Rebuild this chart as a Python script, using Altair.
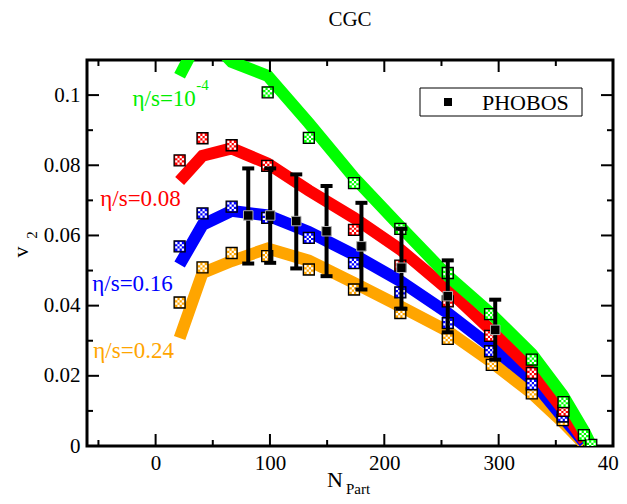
import altair as alt
import pandas as pd

W, H = 526, 386
FONT = "Liberation Serif"

# ---- model curves (hydro + CGC) ----
green_n = [21, 41, 66.5, 98, 134, 173.5, 214, 255.5, 293, 329, 356, 375, 381]
green_v = [0.1055, 0.118, 0.1095, 0.1055, 0.0920, 0.0765, 0.0625, 0.0485, 0.0378, 0.0262, 0.0145, 0.0040, 0.0]
model_n = [21, 41, 66.5, 98, 134, 173.5, 214, 255.5, 293, 329, 356, 375]
red_v = [0.0755, 0.0827, 0.0848, 0.0805, 0.0728, 0.0650, 0.0560, 0.0446, 0.0331, 0.0217, 0.0105, 0.0015]
blue_v = [0.0517, 0.0630, 0.0670, 0.0657, 0.0610, 0.0545, 0.0470, 0.0379, 0.0284, 0.0189, 0.0082, 0.0010]
orange_v = [0.0308, 0.0493, 0.0527, 0.0563, 0.0528, 0.0465, 0.0398, 0.0327, 0.0241, 0.0150, 0.0068, 0.0005]

# ---- checkered squares ----
gsq_n = [98, 134, 173.5, 214, 255.5, 292.5, 329, 356.7, 374.5, 381]
gsq_v = [0.1008, 0.0878, 0.0749, 0.0619, 0.0493, 0.0376, 0.0246, 0.0125, 0.0031, 0.0003]
rsq_n = [21, 41, 66.5, 97.6, 173.5, 214, 255.5, 292.5, 329, 356.7]
rsq_v = [0.0814, 0.0877, 0.0857, 0.0798, 0.0616, 0.0514, 0.0412, 0.0314, 0.0208, 0.0100]
bsq_n = [21, 41, 66.5, 97.6, 134, 173.5, 214, 255.5, 292.5, 329, 356]
bsq_v = [0.0569, 0.0663, 0.0682, 0.0650, 0.0593, 0.0521, 0.0438, 0.0350, 0.0270, 0.0176, 0.0084]
osq_n = [21, 41, 66.5, 97.6, 134, 173.5, 214, 255.5, 294, 329, 356]
osq_v = [0.0409, 0.0509, 0.0550, 0.0541, 0.0503, 0.0446, 0.0379, 0.0305, 0.0231, 0.0150, 0.0074]

# ---- PHOBOS ----
ph_n = [81, 100.2, 123, 149.5, 180, 215, 255.5, 297]
ph_v = [0.0657, 0.0657, 0.0641, 0.0612, 0.0569, 0.0508, 0.0427, 0.0331]
ph_hi = [0.0791, 0.0791, 0.0774, 0.0741, 0.0693, 0.0619, 0.0529, 0.0417]
ph_lo = [0.0520, 0.0522, 0.0506, 0.0484, 0.0446, 0.0391, 0.0324, 0.0246]

# ---- axes ----
x_major = [0, 100, 200, 300, 400]
x_minor = [-50, 50, 150, 250, 350]
y_major = [0, 0.02, 0.04, 0.06, 0.08, 0.1]
y_minor = [0.01, 0.03, 0.05, 0.07, 0.09]

# ---- curve labels ----
lab_text = ["η/s=10", "η/s=0.08", "η/s=0.16", "η/s=0.24"]
lab_n = [-20.2, -48.4, -55.4, -54.5]
lab_v = [0.0989, 0.0703, 0.0463, 0.0271]
lab_col = ["#00ee00", "#ff0000", "#0000ff", "#ffa500"]
sup_text = ["-4"]
sup_n = [35.5]
sup_v = [0.1028]

COL = {"g": "#00ff00", "r": "#ff0000", "b": "#0000ff", "o": "#ffa500"}

xs = alt.Scale(domain=[-60, 400], nice=False, zero=False)
ys = alt.Scale(domain=[0, 0.11], nice=False, zero=False)

x_axis = alt.Axis(values=x_major, title=None, ticks=False, domain=False, grid=False,
                  labelFont=FONT, labelFontSize=21, labelColor="black", labelPadding=6,
                  labelFlush=False, labelOverlap=False)
y_axis = alt.Axis(values=y_major, format=".2~f", title=None, ticks=False, domain=False, grid=False,
                  labelFont=FONT, labelFontSize=21, labelColor="black", labelPadding=7,
                  labelOverlap=False)

X = lambda f: alt.X(f, type="quantitative", scale=xs, axis=x_axis)
Y = lambda f: alt.Y(f, type="quantitative", scale=ys, axis=y_axis)

layers = []

# model bands
for n, v, c in [(model_n, orange_v, "o"), (model_n, blue_v, "b"), (model_n, red_v, "r"), (green_n, green_v, "g")]:
    layers.append(
        alt.Chart(pd.DataFrame({"n": n, "v": v})).mark_line(
            color=COL[c], strokeWidth=12, clip=True, strokeCap="butt", strokeJoin="miter"
        ).encode(x=X("n"), y=Y("v"))
    )

# checker path
cells = []
for i in range(4):
    for j in range(4):
        if (i + j) % 2 == 0:
            x0 = -0.8 + 0.4 * i
            y0 = -0.8 + 0.4 * j
            cells.append(f"M{x0:.2f},{y0:.2f}h0.4v0.4h-0.4z")
checker = "".join(cells)

for n, v, c in [(osq_n, osq_v, "o"), (bsq_n, bsq_v, "b"), (rsq_n, rsq_v, "r"), (gsq_n, gsq_v, "g")]:
    d = pd.DataFrame({"n": n, "v": v})
    layers.append(
        alt.Chart(d).mark_point(shape="square", filled=True, fill=COL[c], stroke="black",
                                strokeWidth=1.3, size=121, opacity=1, clip=True
                                ).encode(x=X("n"), y=Y("v"))
    )
    layers.append(
        alt.Chart(d).mark_point(shape=checker, filled=True, fill="white", strokeWidth=0,
                                size=121, opacity=1, clip=True).encode(x=X("n"), y=Y("v"))
    )

# PHOBOS error bars
ph = pd.DataFrame({"n": ph_n, "v": ph_v, "hi": ph_hi, "lo": ph_lo})
layers.append(alt.Chart(ph).mark_rule(color="black", strokeWidth=4).encode(x=X("n"), y=Y("lo"), y2="hi"))
layers.append(alt.Chart(ph).mark_rule(color="black", strokeWidth=4, xOffset=-6, x2Offset=6).encode(
    x=X("n"), x2="n", y=Y("hi")))
layers.append(alt.Chart(ph).mark_rule(color="black", strokeWidth=4, xOffset=-6, x2Offset=6).encode(
    x=X("n"), x2="n", y=Y("lo")))
layers.append(alt.Chart(ph).mark_point(shape="square", filled=True, fill="black", stroke="#b0b0b0",
                                       strokeWidth=1, size=90, opacity=1).encode(x=X("n"), y=Y("v")))

# curve labels
labs = pd.DataFrame({"t": lab_text, "n": lab_n, "v": lab_v, "c": lab_col})
layers.append(alt.Chart(labs).mark_text(font=FONT, fontSize=23, align="left", baseline="middle").encode(
    x=X("n"), y=Y("v"), text="t:N", color=alt.Color("c:N", scale=None)))
sups = pd.DataFrame({"t": sup_text, "n": sup_n, "v": sup_v})
layers.append(alt.Chart(sups).mark_text(font=FONT, fontSize=15, align="left", baseline="middle",
                                        color="#00ee00").encode(x=X("n"), y=Y("v"), text="t:N"))

# inward ticks on all four sides
xmaj = pd.DataFrame({"n": x_major})
xmin = pd.DataFrame({"n": x_minor})
ymaj = pd.DataFrame({"v": y_major})
ymin = pd.DataFrame({"v": y_minor})
for d, L in [(xmaj, 12), (xmin, 6)]:
    layers.append(alt.Chart(d).mark_rule(color="black", strokeWidth=2).encode(
        x=X("n"), y=alt.value(H), y2=alt.value(H - L)))
    layers.append(alt.Chart(d).mark_rule(color="black", strokeWidth=2).encode(
        x=X("n"), y=alt.value(0), y2=alt.value(L)))
for d, L in [(ymaj, 12), (ymin, 6)]:
    layers.append(alt.Chart(d).mark_rule(color="black", strokeWidth=2).encode(
        y=Y("v"), x=alt.value(0), x2=alt.value(L)))
    layers.append(alt.Chart(d).mark_rule(color="black", strokeWidth=2).encode(
        y=Y("v"), x=alt.value(W), x2=alt.value(W - L)))

# legend box
one = pd.DataFrame({"t": ["PHOBOS"]})
layers.append(alt.Chart(one).mark_rect(fill="white", stroke="black", strokeWidth=1).encode(
    x=alt.value(333), x2=alt.value(495), y=alt.value(28), y2=alt.value(56)))
layers.append(alt.Chart(one).mark_point(shape="square", filled=True, fill="black", size=64, opacity=1).encode(
    x=alt.value(361), y=alt.value(42)))
layers.append(alt.Chart(one).mark_text(font=FONT, fontSize=22, align="left", baseline="middle",
                                       color="black").encode(x=alt.value(395), y=alt.value(43), text="t:N"))

# titles
def txt(s, x, y, size, angle=0):
    return alt.Chart(pd.DataFrame({"t": [s]})).mark_text(
        font=FONT, fontSize=size, align="center", baseline="middle", color="black", angle=angle
    ).encode(x=alt.value(x), y=alt.value(y), text="t:N")

layers.append(txt("CGC", 263, -40, 21))
layers.append(txt("N", 248, 420, 22))
layers.append(txt("Part", 271, 429, 15))
layers.append(txt("v", -66, 192, 22, 270))
layers.append(txt("2", -55, 175, 15, 270))

chart = alt.layer(*layers).properties(
    width=W, height=H,
    autosize="none",
    padding={"left": 79, "top": 52, "right": 6, "bottom": 50},
).configure_view(stroke="black", strokeWidth=3)

chart.save("out.html", embed_options={"renderer": "svg", "actions": False})
